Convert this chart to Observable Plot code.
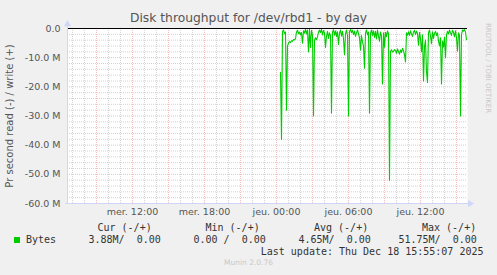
<!DOCTYPE html>
<html>
<head>
<meta charset="utf-8">
<script src="https://cdn.jsdelivr.net/npm/d3@7"></script>
<script src="https://cdn.jsdelivr.net/npm/@observablehq/plot@0.6"></script>
<style>
  html, body { margin: 0; padding: 0; background: #F0F0F0; }
  #wrap { position: relative; width: 497px; height: 275px; overflow: hidden; background: #F0F0F0; }
  #wrap svg { position: absolute; left: 0; top: 0; }
  .t { position: absolute; white-space: pre; color: #666; font-family: "DejaVu Sans", sans-serif; }
  .mono { font-family: "DejaVu Sans Mono", monospace; font-size: 10px; line-height: 12px; color: #333; }
</style>
</head>
<body>
<div id="wrap"></div>
<script>
// ---- data ----
const title = "Disk throughput for /dev/rbd1 - by day";
const yAxisTitle = "Pr second read (-) / write (+)";
const yTicks = [0, -10, -20, -30, -40, -50, -60];
const yTickLabels = ["0.0", "-10.0 M", "-20.0 M", "-30.0 M", "-40.0 M", "-50.0 M", "-60.0 M"];
const xTickTimes = ["2025-12-17T12:00:00Z", "2025-12-17T18:00:00Z", "2025-12-18T00:00:00Z", "2025-12-18T06:00:00Z", "2025-12-18T12:00:00Z"];
const xTickLabels = ["mer. 12:00", "mer. 18:00", "jeu. 00:00", "jeu. 06:00", "jeu. 12:00"];
const rangeStart = "2025-12-17T06:35:07Z";
const rangeEnd = "2025-12-18T15:55:07Z";
const seriesStart = "2025-12-18T00:20:07Z";
const stepMinutes = 5;
// read throughput, MB/s (plotted negative)
const readValues = [
  15, 38, 1, 0.5, 1.8, 1.2, 28, 6, 5, 4.5,
  4.8, 4.2, 4.4, 3.8, 3.9, 3.5, 1.2, 0.6, 1.8, 1.2,
  2.2, 1.4, 5, 0.8, 1.6, 0.3, 1.9, 0.5, 8, 0.3,
  6.5, 0.6, 2.4, 30, 4, 3.2, 3.9, 2.8, 1.3, 0.5,
  1.4, 0.3, 2.2, 0.7, 1.5, 6.5, 2.6, 1, 3.4, 1.5,
  2.5, 29, 1.2, 0.4, 2.3, 0.8, 2.8, 1.1, 5.5, 1.6,
  0.5, 2.6, 1, 3.5, 9, 1.8, 0.5, 2.4, 30, 1,
  0.3, 1.4, 0.6, 2.1, 0.9, 2.7, 1.5, 0.5, 1.8, 3.2,
  7.4, 2.4, 4.6, 6, 13.6, 1.5, 0.5, 2.2, 1.2, 29,
  1.6, 0.5, 2.4, 0.8, 3.1, 1, 3.6, 0.5, 2.5, 4.4,
  1.2, 2.6, 19, 1.5, 6.4, 1.3, 2.8, 0.8, 1.8, 52,
  7.8, 7.3, 8.1, 7.9, 7.2, 7.6, 8.5, 7, 7.9, 8.8,
  7.4, 8.2, 6.8, 7.6, 9, 11.5, 1.5, 2.3, 1.1, 2.4,
  0.8, 1.9, 2.7, 1.2, 0.6, 2.1, 0.9, 1.7, 5.7, 1.3,
  3.4, 8, 2.2, 18, 6.2, 4, 15, 18.5, 1.4, 0.5,
  2.6, 5.2, 1.1, 3.4, 1.6, 1, 2.4, 1.5, 4.3, 6,
  3.2, 19, 4.3, 6.4, 3, 10, 2.2, 1, 1.9, 0.5,
  1.5, 2.4, 0.6, 1.3, 2.9, 0.8, 3.3, 7.7, 1.5, 2.2,
  30, 2.1, 0.5, 0.9, 0.4, 1.2, 3.88
];
const legendHeaders = ["Cur (-/+)", "Min (-/+)", "Avg (-/+)", "Max (-/+)"];
const legendName = "Bytes";
const legendValues = ["3.88M/  0.00", "0.00 /  0.00", "4.65M/  0.00", "51.75M/  0.00"];
const lastUpdate = "Last update: Thu Dec 18 15:55:07 2025";
const footer = "Munin 2.0.76";
const sideText = "RRDTOOL / TOBI OETIKER";
const lineColor = "#00CC00";

// ---- build ----
const t0 = new Date(seriesStart);
const data = readValues.map((v, i) => ({t: new Date(+t0 + i * stepMinutes * 60000), v: -v}));
const x0 = new Date(rangeStart), x1 = new Date(rangeEnd);
const hours = d3.utcHour.range(x0, x1);
const majorHours = hours.filter(d => d.getUTCHours() % 3 === 0);
const minorHours = hours.filter(d => d.getUTCHours() % 3 !== 0);
const yMinor = d3.range(0, -61, -2).filter(v => v % 10 !== 0);
const xLabelMap = new Map(xTickTimes.map((d, i) => [+new Date(d), xTickLabels[i]]));
const yLabelMap = new Map(yTicks.map((d, i) => [d, yTickLabels[i]]));
const axisColor = "#CFD6F8";
const minorColor = "#d4d4d4";
const majorColor = "#f3bcbc";

const chart = Plot.plot({
  width: 497,
  height: 275,
  marginLeft: 67,
  marginRight: 30,
  marginTop: 28,
  marginBottom: 72,
  style: {background: "transparent", color: "#666", fontFamily: "DejaVu Sans", fontSize: "9.5px", overflow: "visible"},
  x: {type: "utc", domain: [x0, x1], axis: null},
  y: {domain: [-60, 0], axis: null},
  marks: [
    Plot.frame({fill: "white", stroke: "none"}),
    Plot.ruleX(minorHours, {stroke: minorColor, strokeDasharray: "1,1"}),
    Plot.ruleY(yMinor, {stroke: minorColor, strokeDasharray: "1,1"}),
    Plot.ruleX(majorHours, {stroke: majorColor, strokeDasharray: "1,1", y1: -60, y2: 0}),
    Plot.ruleY(yTicks, {stroke: majorColor, strokeDasharray: "1,1"}),
    Plot.line(data, {x: "t", y: "v", stroke: lineColor, strokeWidth: 1.1}),
    Plot.ruleY([0], {stroke: "#000", strokeWidth: 1}),
    Plot.ruleY([-60], {stroke: axisColor, x1: d3.utcMinute.offset(x0, -10), x2: d3.utcMinute.offset(x1, 10)}),
    Plot.ruleX([x0], {stroke: axisColor, y1: -60.3, y2: 1.5}),
    Plot.dot([{t: d3.utcMinute.offset(x1, 13), v: -60}], {x: "t", y: "v", symbol: "triangle", r: 2.6, fill: axisColor, stroke: "none", rotate: 90}),
    Plot.dot([{t: x0, v: 1.5}], {x: "t", y: "v", symbol: "triangle", r: 2.6, fill: axisColor, stroke: "none"}),
    Plot.axisX(xTickTimes.map(d => new Date(d)), {label: null, tickSize: 0, tickPadding: 5, tickFormat: d => xLabelMap.get(+d), fill: "#555"}),
    Plot.axisY(yTicks, {label: null, tickSize: 0, tickPadding: 7, tickFormat: d => yLabelMap.get(d), fill: "#555"})
  ]
});

const wrap = document.getElementById("wrap");
wrap.appendChild(chart);

function addText(txt, opts) {
  const el = document.createElement("div");
  el.className = "t" + (opts.mono ? " mono" : "");
  el.textContent = txt;
  Object.assign(el.style, opts.style || {});
  wrap.appendChild(el);
  return el;
}

// title
addText(title, {style: {left: "0px", width: "497px", textAlign: "center", top: "11px", fontSize: "12.3px", lineHeight: "15px", color: "#555"}});
// y axis title (rotated)
addText(yAxisTitle, {style: {left: "10px", top: "116px", fontSize: "10px", lineHeight: "12px", transform: "translate(-50%,-50%) rotate(-90deg)", color: "#555"}});
// side text
addText(sideText, {style: {left: "487px", top: "23px", fontSize: "7px", lineHeight: "9px", transformOrigin: "0 0", transform: "rotate(90deg) translate(0,-4.5px)", color: "#c8c8c8"}});

// legend
const headerLeft = [97.5, 205.5, 314, 422];
legendHeaders.forEach((h, i) => addText(h, {mono: true, style: {left: headerLeft[i] + "px", top: "221.5px"}}));
const sq = document.createElement("div");
Object.assign(sq.style, {position: "absolute", left: "14px", top: "236.5px", width: "6px", height: "6px", background: lineColor});
wrap.appendChild(sq);
addText(legendName, {mono: true, style: {left: "26px", top: "233.5px"}});
const valueLeft = [88.5, 193.5, 298.5, 398.5];
legendValues.forEach((v, i) => addText(v, {mono: true, style: {left: valueLeft[i] + "px", top: "233.5px"}}));
addText(lastUpdate, {mono: true, style: {right: "13.5px", top: "245.5px"}});
addText(footer, {style: {left: "0px", width: "497px", textAlign: "center", top: "258px", fontSize: "7.5px", lineHeight: "10px", color: "#c8c8c8"}});
</script>
</body>
</html>
